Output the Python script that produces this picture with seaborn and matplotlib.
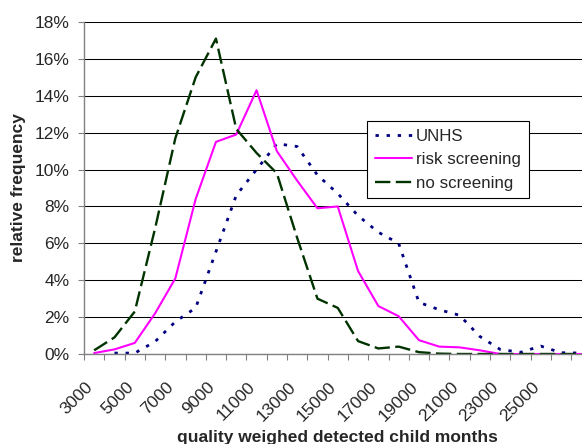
import numpy as np
import pandas as pd
import matplotlib
matplotlib.use('Agg')
import matplotlib.pyplot as plt
import matplotlib.transforms as mtransforms
import seaborn as sns

# ---- data (relative frequency, %) ----
months = [3000, 4000, 5000, 6000, 7000, 8000, 9000, 10000, 11000, 12000, 13000,
          14000, 15000, 16000, 17000, 18000, 19000, 20000, 21000, 22000, 23000,
          24000, 25000, 26000, 27000]
unhs = [np.nan, 0.05, 0.05, 0.67, 1.75, 2.5, 5.55, 8.6, 10.0, 11.4, 11.25,
        9.7, 8.7, 7.5, 6.6, 6.0, 2.8, 2.4, 2.1, 0.95, 0.25, 0.09, 0.43, 0.07, 0.05]
risk_screening = [0.05, 0.25, 0.6, 2.2, 4.1, 8.4, 11.5, 11.9, 14.3, 11.0, 9.4,
                  7.9, 8.0, 4.5, 2.6, 2.05, 0.75, 0.4, 0.36, 0.2, 0.0, 0.0, 0.0, 0.0, 0.0]
no_screening = [0.2, 0.9, 2.3, 6.8, 11.7, 15.0, 17.1, 12.2, 10.9, 9.8, 6.3,
                3.0, 2.5, 0.7, 0.3, 0.4, 0.1, 0.02, 0.0, 0.0, 0.0, 0.0, 0.0, 0.0, 0.0]
series_names = ['UNHS', 'risk screening', 'no screening']
y_ticks = [0, 2, 4, 6, 8, 10, 12, 14, 16, 18]
x_tick_labels = [3000, 5000, 7000, 9000, 11000, 13000, 15000, 17000, 19000,
                 21000, 23000, 25000]

sns.set_style('white')
plt.rcParams['font.family'] = ['Liberation Sans', 'DejaVu Sans']

W, H = 582, 444
fig = plt.figure(figsize=(W / 100, H / 100), dpi=100)
ax = fig.add_axes([84 / W, 1 - 354 / H, 507.5 / W, 332 / H])

styles = {
    'UNHS': dict(color='#000080', lw=2.0, ls=(0, (1.2, 2.8))),
    'risk screening': dict(color='#FF00FF', lw=1.5, ls='-'),
    'no screening': dict(color='#003300', lw=1.7, ls=(0, (6.5, 2.3))),
}
values = {'UNHS': unhs, 'risk screening': risk_screening, 'no screening': no_screening}

for name in series_names:
    df = pd.DataFrame({'months': months, 'freq': values[name]}).dropna()
    st = styles[name]
    sns.lineplot(data=df, x='months', y='freq', ax=ax, color=st['color'],
                 linewidth=st['lw'], linestyle=st['ls'], label=name,
                 estimator=None, sort=False)

ax.set_xlim(months[0] - 500, months[-1] + 500)
ax.set_ylim(0, 18)

FS = 12.5

# y axis
ax.set_yticks(y_ticks)
ax.set_yticklabels([f'{v}%' for v in y_ticks])
ax.tick_params(axis='y', length=4.3, width=0.8, color='#808080', pad=6,
               labelsize=FS, left=True)
ax.yaxis.grid(True, color='black', linewidth=0.75)
ax.xaxis.grid(False)
ax.set_axisbelow(True)

# x axis: labels at category centres, tick marks between categories
ax.set_xticks(x_tick_labels)
ax.set_xticklabels([str(v) for v in x_tick_labels])
bounds = [m - 500 for m in months] + [months[-1] + 500]
ax.set_xticks(bounds, minor=True)
ax.tick_params(axis='x', which='major', length=0, pad=18, labelsize=FS, bottom=True)
ax.tick_params(axis='x', which='minor', length=4.3, width=0.8, color='#808080',
               bottom=True, direction='out')
offset = mtransforms.ScaledTranslation(-9 / 100, 0, fig.dpi_scale_trans)
for lab in ax.get_xticklabels():
    lab.set_rotation(45)
    lab.set_ha('right')
    lab.set_va('top')
    lab.set_rotation_mode('anchor')
    lab.set_transform(lab.get_transform() + offset)

for side in ['top', 'right']:
    ax.spines[side].set_visible(False)
for side in ['left', 'bottom']:
    ax.spines[side].set_color('#808080')
    ax.spines[side].set_linewidth(1.0)

ax.set_xlabel('quality weighed detected child months', fontsize=FS, fontweight='bold')
ax.xaxis.set_label_coords(0.5, -(430 - 354) / 332)
ax.set_ylabel('relative frequency', fontsize=FS, fontweight='bold')
ax.yaxis.set_label_coords(-(84 - 26) / 507.5, 0.5)

leg = ax.legend(loc='upper left', bbox_to_anchor=((367 - 84) / 507.5, (354 - 121) / 332),
                frameon=True, fancybox=False, framealpha=1, edgecolor='black',
                fontsize=12.2, handlelength=2.2, handletextpad=0.25,
                labelspacing=0.5, borderpad=0.45, borderaxespad=0)
leg.get_frame().set_linewidth(0.8)

fig.savefig('out.png', dpi=100)
